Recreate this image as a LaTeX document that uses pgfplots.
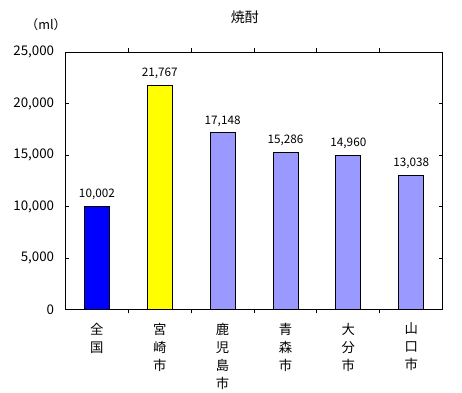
\documentclass[border=0pt]{standalone}
\usepackage{fontspec}
\setmainfont{Noto Sans CJK JP}
\usepackage{pgfplots}
\pgfplotsset{compat=1.18}
\definecolor{cblue}{HTML}{0000FF}
\definecolor{cyel}{HTML}{FFFF00}
\definecolor{clav}{HTML}{9999FF}
\begin{document}
\begin{tikzpicture}
\begin{axis}[
 name=ax,
 scale only axis,
 width=282.9pt, height=193.1pt,
 xmin=-0.5, xmax=5.5, ymin=0, ymax=25000,
 ytick={0,5000,10000,15000,20000,25000},
 scaled y ticks=false,
 xtick={0,1,2,3,4,5},
 xticklabels={全\\国, 宮\\崎\\市, 鹿\\児\\島\\市, 青\\森\\市, 大\\分\\市, 山\\口\\市},
 x tick label style={align=center, font=\fontsize{10}{13.5}\selectfont, anchor=north, yshift=-4pt},
 major x tick style={draw=none},
 minor xtick={0.5,1.5,2.5,3.5,4.5},
 tick align=inside,
 major tick length=2.5pt, minor tick length=3pt,
 y tick label style={font=\fontsize{10}{12}\selectfont, xshift=-5pt},
 axis line style={line width=0.7pt},
 every tick/.style={line width=0.7pt, black},
 ybar, bar width=18.75pt, bar shift=0pt,
 nodes near coords,
 every node near coord/.append style={font=\fontsize{8.8}{10}\selectfont, yshift=1pt},
 /pgf/number format/1000 sep={,},
 /pgf/number format/assume math mode=true,
]
\addplot[draw=black, line width=0.7pt, fill=cblue] coordinates {(0,10002)};
\addplot[draw=black, line width=0.7pt, fill=cyel] coordinates {(1,21767)};
\addplot[draw=black, line width=0.7pt, fill=clav] coordinates {(2,17148) (3,15286) (4,14960) (5,13038)};
\end{axis}
\node[font=\fontsize{10.5}{12}\selectfont] at ([xshift=134.6pt,yshift=26.25pt]ax.north west) {焼酎};
\node[font=\fontsize{9.5}{12}\selectfont] at ([xshift=-14.6pt,yshift=20.25pt]ax.north west) {（ml）};
\pgfresetboundingbox
\path[use as bounding box] ([xshift=-49.1pt,yshift=-62pt]ax.south west) rectangle ([xshift=14.5pt,yshift=39pt]ax.north east);
\end{tikzpicture}
\end{document}
